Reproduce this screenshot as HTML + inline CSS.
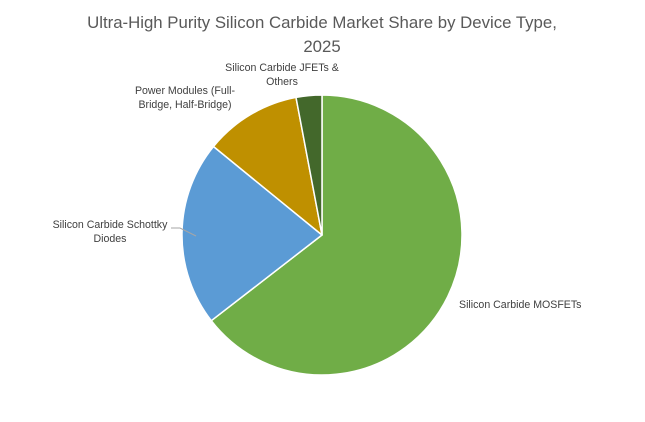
<!DOCTYPE html>
<html><head><meta charset="utf-8"><style>
body{margin:0;background:#fff;}
svg{display:block;font-family:"Liberation Sans",sans-serif;}
</style></head><body>
<svg width="645" height="422" viewBox="0 0 645 422">
<rect width="645" height="422" fill="#fff"/>
<text x="322" y="28" text-anchor="middle" font-size="16.8" fill="#595959">Ultra-High Purity Silicon Carbide Market Share by Device Type,</text>
<text x="322" y="52" text-anchor="middle" font-size="16.8" fill="#595959">2025</text>
<g stroke="#fff" stroke-width="1.5" stroke-linejoin="round">
<path d="M322,235 L322,95 A140,140 0 1 1 211.3,320.7 Z" fill="#70AD47"/>
<path d="M322,235 L211.3,320.7 A140,140 0 0 1 213.5,146.5 Z" fill="#5B9BD5"/>
<path d="M322,235 L213.5,146.5 A140,140 0 0 1 296,97.4 Z" fill="#BF9000"/>
<path d="M322,235 L296,97.4 A140,140 0 0 1 322,95 Z" fill="#43682B"/>
</g>
<g font-size="10.6" fill="#404040">
<text x="459" y="308">Silicon Carbide MOSFETs</text>
<text x="110" y="228" text-anchor="middle">Silicon Carbide Schottky</text>
<text x="110" y="242" text-anchor="middle">Diodes</text>
<text x="185" y="94" text-anchor="middle">Power Modules (Full-</text>
<text x="185" y="108" text-anchor="middle">Bridge, Half-Bridge)</text>
<text x="282" y="71" text-anchor="middle">Silicon Carbide JFETs &amp;</text>
<text x="282" y="85" text-anchor="middle">Others</text>
</g>
<polyline points="171,228 180,228 196,236" fill="none" stroke="#a6a6a6" stroke-width="1"/>
</svg>
</body></html>
